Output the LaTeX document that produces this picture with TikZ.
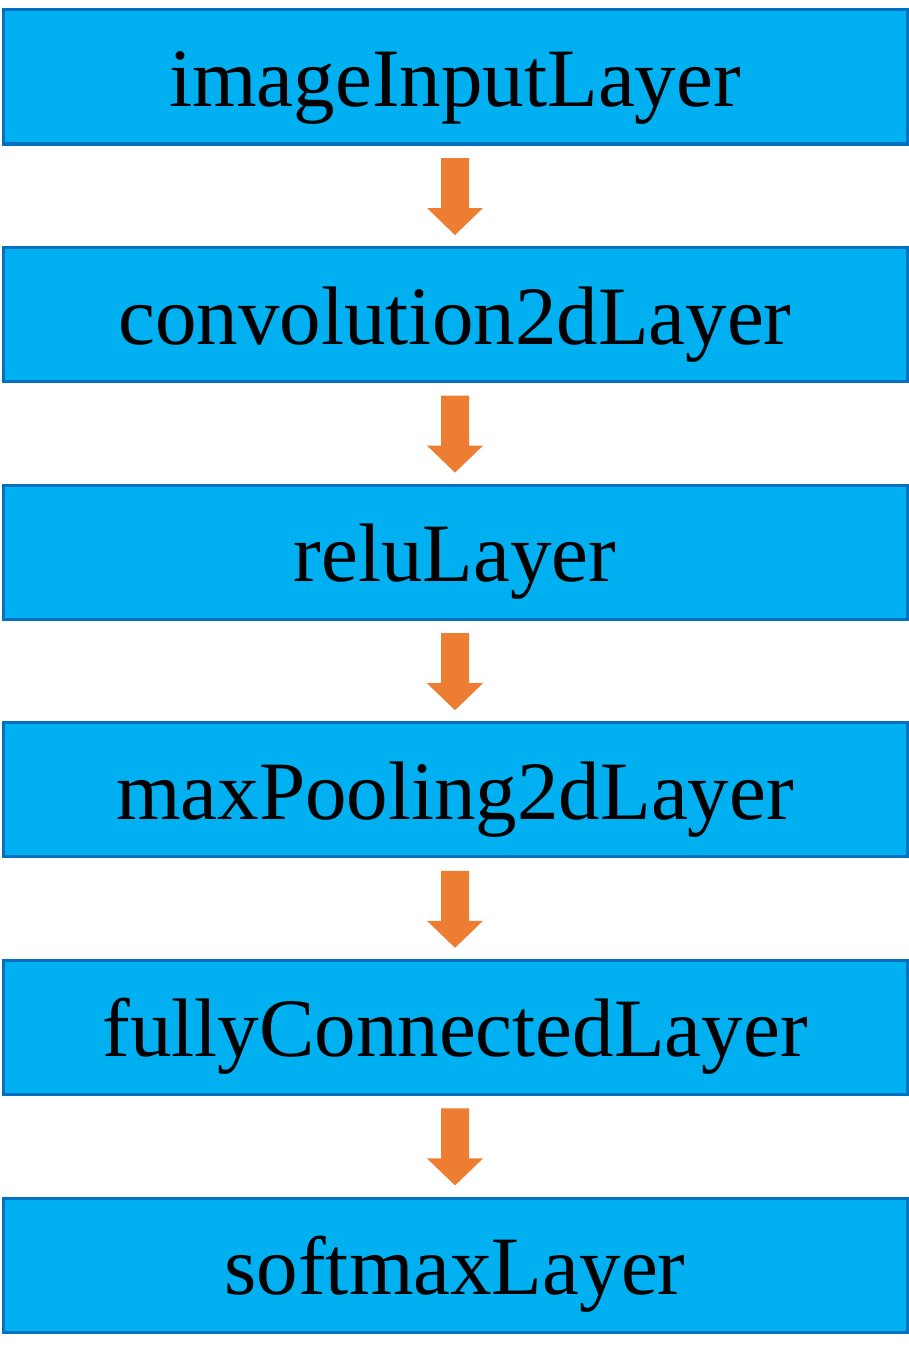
\documentclass[tikz,border=0pt]{standalone}
\usepackage{fontspec}
\setmainfont{Liberation Serif}
\usetikzlibrary{calc}
\definecolor{boxfill}{HTML}{00B0F0}
\definecolor{boxline}{HTML}{0070C0}
\definecolor{arrowc}{HTML}{ED7D31}
\begin{document}
\begin{tikzpicture}[x=1pt,y=-1pt,
  layer/.style={draw=boxline,fill=boxfill,line width=3pt,minimum width=904pt,minimum height=134pt,inner sep=0pt,
    text height=70pt,text depth=11pt,
    font=\fontsize{83}{90}\selectfont,anchor=north west},
  flowarrow/.style={fill=arrowc}]
\useasboundingbox (0,0) rectangle (909,1362);
\foreach \i/\t in {0/imageInputLayer,1/convolution2dLayer,2/reluLayer,3/maxPooling2dLayer,4/fullyConnectedLayer,5/softmaxLayer}{
  \node[layer] (b\i) at (1.5,{8.5+237.6*\i}) {\t};
}
\foreach \i in {0,...,4}{
  \fill[flowarrow] ($(b\i.south)+(-14,12.5)$) -- ++(28,0) -- ++(0,50) -- ++(14,0) -- ++(-28,27) -- ++(-28,-27) -- ++(14,0) -- cycle;
}
\end{tikzpicture}
\end{document}
